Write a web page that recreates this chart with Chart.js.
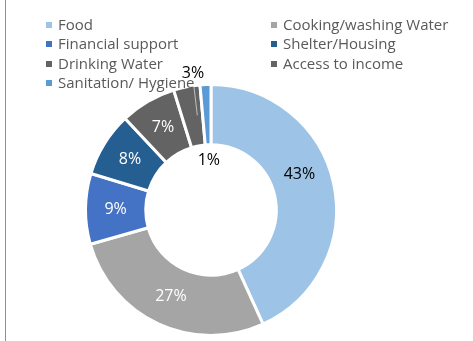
<!DOCTYPE html>
<html>
<head>
<meta charset="utf-8">
<script src="https://cdn.jsdelivr.net/npm/chart.js@4/dist/chart.umd.min.js"></script>
<style>
  html, body { margin: 0; padding: 0; background: #fff; }
  #wrap { position: relative; width: 473px; height: 341px; overflow: hidden; }
  #wrap .edge { position: absolute; left: 5px; top: 0; width: 1px; height: 341px; background: #8f8f8f; }
  #chart { position: absolute; left: 0; top: 0; }
  .legend { position: absolute; font-family: 'Open Sans', sans-serif; font-size: 15px; color: #595959; line-height: 19px; white-space: nowrap; }
  .legend .sw { position: absolute; width: 6px; height: 6px; top: 7px; }
</style>
</head>
<body>
<div id="wrap">
  <div class="edge"></div>
  <canvas id="chart" width="473" height="341"></canvas>
  <div id="legend"></div>
</div>
<script>
// ── data ──────────────────────────────────
const labels = ['Food', 'Cooking/washing Water', 'Financial support', 'Shelter/Housing', 'Drinking Water', 'Access to income', 'Sanitation/ Hygiene'];
const values = [43.2, 27.4, 9.1, 8.3, 7.2, 3.4, 1.4];
const colors = ['#9DC3E6', '#A5A5A5', '#4472C4', '#255E91', '#636363', '#636363', '#5B9BD5'];
const labelColors = ['#000', '#fff', '#fff', '#fff', '#fff', '#000', '#000'];

// legend: two columns, read row by row
const legend = document.getElementById('legend');
labels.forEach((name, i) => {
  const col = i % 2, row = Math.floor(i / 2);
  const el = document.createElement('div');
  el.className = 'legend';
  el.style.left = (col ? 283 : 58) + 'px';
  el.style.top = (15 + row * 19.3) + 'px';
  el.innerHTML = `<span class="sw" style="left:-12px;background:${colors[i]}"></span>${name}`;
  legend.appendChild(el);
});

// percentage labels drawn on each slice
const sliceLabels = {
  id: 'sliceLabels',
  afterDatasetsDraw(chart) {
    const { ctx } = chart;
    const meta = chart.getDatasetMeta(0);
    const total = values.reduce((a, b) => a + b, 0);
    ctx.save();
    ctx.font = '16px "Open Sans", sans-serif';
    ctx.textAlign = 'center';
    ctx.textBaseline = 'middle';
    meta.data.forEach((arc, i) => {
      const { x, y, startAngle, endAngle, innerRadius, outerRadius } = arc.getProps(['x', 'y', 'startAngle', 'endAngle', 'innerRadius', 'outerRadius'], true);
      let mid = (startAngle + endAngle) / 2;
      const txt = Math.round(values[i] / total * 100) + '%';
      let r = (innerRadius + outerRadius) / 2;
      let dx = 0;
      if (i === 0) {
        mid -= 0.17; // excel sits the big label a bit higher
      } else if (i === 5) {
        // small slice: label outside with leader line
        r = outerRadius + 14; dx = 9;
        const lx = x + Math.cos(mid) * r + dx, ly = y + Math.sin(mid) * r;
        ctx.strokeStyle = '#BFBFBF';
        ctx.lineWidth = 1;
        ctx.beginPath();
        ctx.moveTo(lx + 1, ly + 14);
        ctx.lineTo(x + Math.cos(mid) * (outerRadius - 29) + 5, y + Math.sin(mid) * (outerRadius - 29));
        ctx.stroke();
      } else if (i === 6) {
        r = innerRadius - 16;
      }
      ctx.fillStyle = labelColors[i];
      ctx.fillText(txt, x + Math.cos(mid) * r + dx, y + Math.sin(mid) * r);
    });
    ctx.restore();
  }
};

new Chart(document.getElementById('chart'), {
  type: 'doughnut',
  data: {
    labels,
    datasets: [{ data: values, backgroundColor: colors, borderColor: '#fff', borderWidth: 3 }]
  },
  options: {
    responsive: false,
    animation: false,
    cutout: '52%',
    layout: { padding: { left: 84, right: 135, top: 83, bottom: 4 } },
    plugins: { legend: { display: false }, tooltip: { enabled: false } }
  },
  plugins: [sliceLabels]
});
</script>
</body>
</html>
